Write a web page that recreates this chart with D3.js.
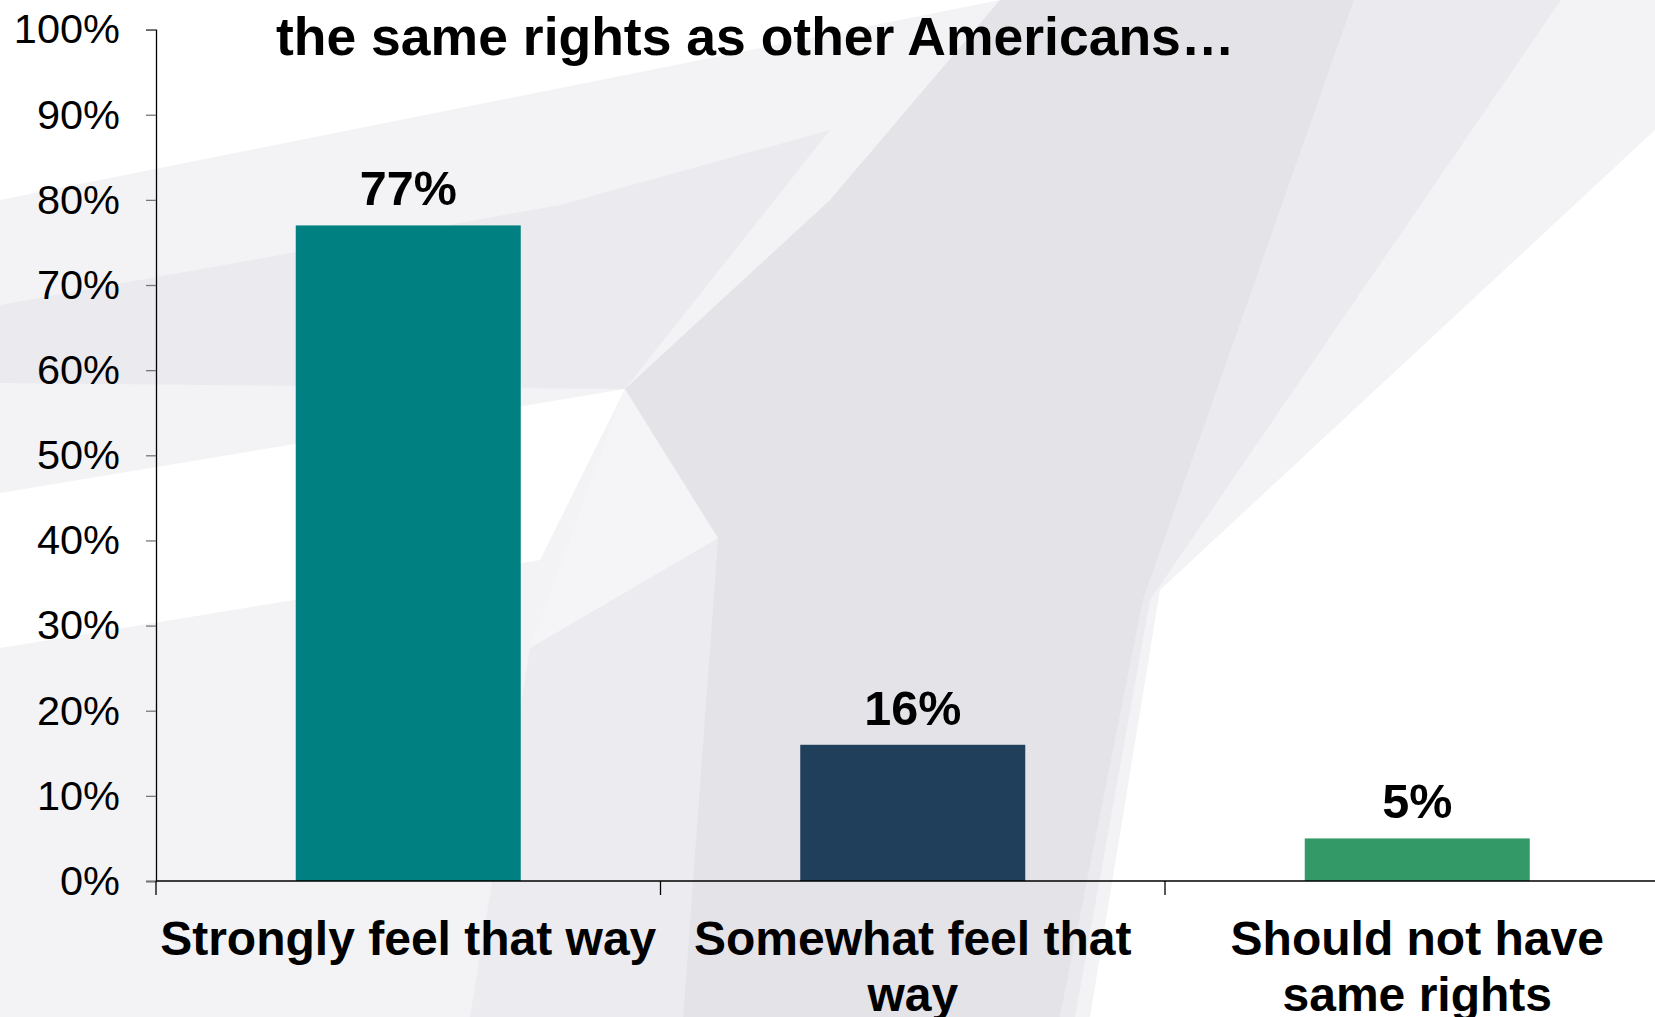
<!DOCTYPE html>
<html>
<head>
<meta charset="utf-8">
<script src="https://cdn.jsdelivr.net/npm/d3@7/dist/d3.min.js"></script>
<style>
  html, body { margin: 0; padding: 0; background: #ffffff; overflow: hidden; }
  svg { display: block; }
  text { font-family: "Liberation Sans", Arial, sans-serif; fill: #000; }
</style>
</head>
<body>
<svg id="chart" width="1655" height="1017"></svg>
<script>
// ---- data ----
const categories = ["Strongly feel that way", "Somewhat feel that way", "Should not have same rights"];
const categoryLines = [["Strongly feel that way"], ["Somewhat feel that", "way"], ["Should not have", "same rights"]];
const values = [0.77, 0.16, 0.05];
const valueLabels = ["77%", "16%", "5%"];
const barColors = ["#008080", "#1F3F5B", "#339966"];
const yTicks = [0, 0.1, 0.2, 0.3, 0.4, 0.5, 0.6, 0.7, 0.8, 0.9, 1.0];
const yTickLabels = ["0%", "10%", "20%", "30%", "40%", "50%", "60%", "70%", "80%", "90%", "100%"];
const titleText = "the same rights as other Americans\u2026";

// ---- layout ----
const W = 1655, H = 1017;
const svg = d3.select("#chart");

// background swoosh (decorative)
const bg = svg.append("g");
const shapes = [
  { c: "#f3f3f5", p: [[0,200],[1000,0],[1655,0],[1655,130],[1160,590],[1090,1017],[0,1017]] },
  { c: "#ffffff", p: [[0,493],[625,389],[540,560],[0,648]] },
  { c: "#ebeaef", p: [[0,305],[560,205],[830,130],[625,389],[0,383]] },
  { c: "#ecebf0", p: [[530,648],[718,538],[683,1017],[470,1017]] },
  { c: "#ebeaef", p: [[1354,0],[1561,0],[1150,600],[1075,1017],[1060,1017],[1143,600]] },
  { c: "#f5f5f7", p: [[625,389],[718,538],[530,648]] },
  { c: "#e4e3e8", p: [[1000,0],[1354,0],[1143,600],[1060,1017],[683,1017],[718,538],[625,389],[830,200]] }
];
shapes.forEach(s => {
  bg.append("polygon").attr("points", s.p.map(d => d.join(",")).join(" ")).attr("fill", s.c);
});

const x0 = 156, band = 504.5;
const x = d3.scaleBand().domain(categories).range([x0, x0 + band * categories.length]).padding(0);
const y = d3.scaleLinear().domain([0, 1]).range([881, 29.6]);
const barFrac = 0.446;

// y axis
const yAxis = d3.axisLeft(y).tickValues(yTicks).tickFormat((d, i) => yTickLabels[i]).tickSize(10).tickPadding(26);
const gy = svg.append("g").attr("transform", `translate(${x0},0)`).call(yAxis);
gy.select(".domain").attr("stroke", "#000").attr("stroke-width", 1.3);
gy.selectAll(".tick line").attr("stroke", "#777").attr("stroke-width", 1.3);
gy.selectAll(".tick text").attr("font-size", 41.5).attr("font-family", "'Liberation Sans', Arial, sans-serif").attr("fill", "#000");

// bars
svg.append("g").selectAll("rect").data(values).join("rect")
  .attr("x", (d, i) => x(categories[i]) + x.bandwidth() * (1 - barFrac) / 2)
  .attr("width", x.bandwidth() * barFrac)
  .attr("y", d => y(d))
  .attr("height", d => y(0) - y(d))
  .attr("fill", (d, i) => barColors[i]);

// x axis line and boundary ticks
svg.append("line").attr("x1", x0).attr("x2", W).attr("y1", y(0)).attr("y2", y(0))
  .attr("stroke", "#000").attr("stroke-width", 1.5);
svg.append("g").selectAll("line").data(categories).join("line")
  .attr("x1", d => x(d)).attr("x2", d => x(d))
  .attr("y1", y(0)).attr("y2", y(0) + 14)
  .attr("stroke", "#000").attr("stroke-width", 1.3);

// value labels
svg.append("g").selectAll("text").data(values).join("text")
  .attr("x", (d, i) => x(categories[i]) + x.bandwidth() / 2)
  .attr("y", d => y(d) - 20)
  .attr("text-anchor", "middle")
  .attr("font-size", 48.5)
  .attr("font-weight", "bold")
  .text((d, i) => valueLabels[i]);

// category labels
const cl = svg.append("g").selectAll("text").data(categories).join("text")
  .attr("x", d => x(d) + x.bandwidth() / 2)
  .attr("y", 955)
  .attr("text-anchor", "middle")
  .attr("font-size", 48)
  .attr("font-weight", "bold");
cl.each(function(d, i) {
  const t = d3.select(this);
  categoryLines[i].forEach((line, j) => {
    t.append("tspan").attr("x", x(d) + x.bandwidth() / 2).attr("dy", j === 0 ? 0 : 56).text(line);
  });
});

// title
svg.append("text").attr("x", 276).attr("y", 55)
  .attr("font-size", 53.5).attr("font-weight", "bold")
  .text(titleText);
</script>
</body>
</html>
